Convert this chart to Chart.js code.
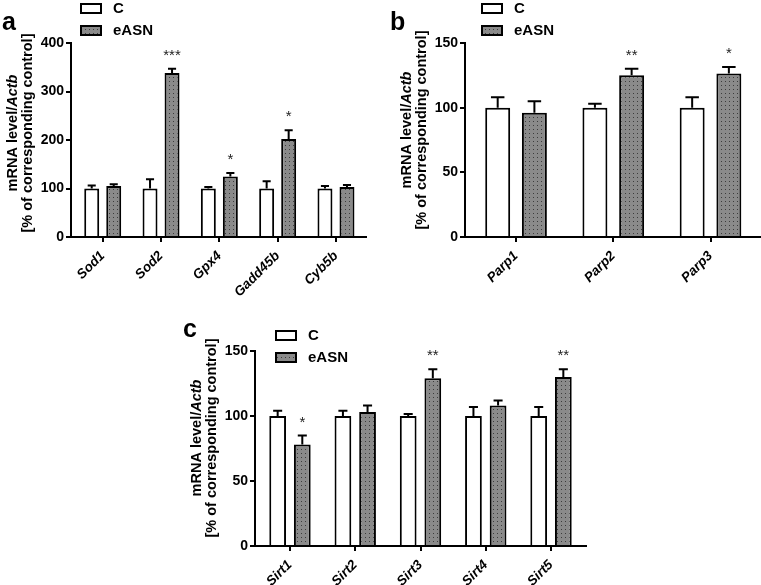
<!DOCTYPE html>
<html><head><meta charset="utf-8">
<script src="https://cdn.jsdelivr.net/npm/chart.js@4.4.1/dist/chart.umd.min.js"></script>
<style>
html,body{margin:0;padding:0;background:#fff;}
#wrap{position:relative;width:761px;height:585px;overflow:hidden;background:#fff;}
canvas{position:absolute;left:0;top:0;}
</style></head><body>
<div id="wrap">
<canvas id="ca" width="761" height="585"></canvas>
<canvas id="cb" width="761" height="585"></canvas>
<canvas id="cc" width="761" height="585"></canvas>
</div>
<script>
// ---- data ----
const seriesNames = ['C', 'eASN'];

const sodGenes = ['Sod1', 'Sod2', 'Gpx4', 'Gadd45b', 'Cyb5b'];
const sodC     = [100, 100, 100, 100, 100];
const sodCErr  = [6, 19, 3, 15, 5];
const sodE     = [105, 338, 125, 202, 103];
const sodEErr  = [4, 9, 7, 18, 4];
const sodSig   = ['', '***', '*', '*', ''];
const sodTicks = [0, 100, 200, 300, 400];

const parpGenes = ['Parp1', 'Parp2', 'Parp3'];
const parpC     = [100, 100, 100];
const parpCErr  = [8, 3, 8];
const parpE     = [96, 125, 126.5];
const parpEErr  = [9, 5, 5];
const parpSig   = ['', '**', '*'];
const parpTicks = [0, 50, 100, 150];

const sirtGenes = ['Sirt1', 'Sirt2', 'Sirt3', 'Sirt4', 'Sirt5'];
const sirtC     = [100, 100, 100, 100, 100];
const sirtCErr  = [4, 4, 1.5, 7, 7];
const sirtE     = [78, 103, 129, 108, 130];
const sirtEErr  = [7, 5, 7, 4, 6];
const sirtSig   = ['*', '', '**', '', '**'];
const sirtTicks = [0, 50, 100, 150];

// ---- layout (positions only) ----
const FONT = "'Liberation Sans', Arial, Helvetica, sans-serif";
const panels = [
  {id:'ca', letter:'a', genes:sodGenes, c:sodC, cErr:sodCErr, e:sodE, eErr:sodEErr, sig:sodSig, yTicks:sodTicks,
   area:{left:71, right:366, top:43, bottom:237}, xMin:0.456, xMax:5.515, xH:60,
   letterPos:[2,30], legendPos:[81,4], titleX:[13,28], titleY:133},
  {id:'cb', letter:'b', genes:parpGenes, c:parpC, cErr:parpCErr, e:parpE, eErr:parpEErr, sig:parpSig, yTicks:parpTicks,
   area:{left:465, right:760, top:43, bottom:237}, xMin:0.475, xMax:3.509, xH:60,
   letterPos:[390,30], legendPos:[482,4], titleX:[407,422], titleY:130},
  {id:'cc', letter:'c', genes:sirtGenes, c:sirtC, cErr:sirtCErr, e:sirtE, eErr:sirtEErr, sig:sirtSig, yTicks:sirtTicks,
   area:{left:255, right:586, top:351, bottom:546}, xMin:0.464, xMax:5.536, xH:39,
   letterPos:[183,337], legendPos:[276,331], titleX:[197,212], titleY:438}
];

function makePattern(ctx) {
  const c = document.createElement('canvas'); c.width = 4; c.height = 4;
  const g = c.getContext('2d');
  g.fillStyle = '#8a8a8a'; g.fillRect(0, 0, 4, 4);
  g.fillStyle = '#3c3c3c'; g.fillRect(1, 1, 1, 1);
  return ctx.createPattern(c, 'repeat');
}

function decoPlugin(p) {
  return {
    id: 'deco' + p.letter,
    afterDatasetsDraw(chart) {
      const ctx = chart.ctx, ys = chart.scales.y;
      ctx.save();
      ctx.strokeStyle = '#000'; ctx.lineWidth = 2;
      [[p.c, p.cErr], [p.e, p.eErr]].forEach(([vals, errs], di) => {
        const meta = chart.getDatasetMeta(di);
        meta.data.forEach((bar, i) => {
          const base = ys.getPixelForValue(vals[i]);
          const top = ys.getPixelForValue(vals[i] + errs[i]);
          const half = bar.width * 0.27;
          ctx.beginPath();
          ctx.moveTo(bar.x, base); ctx.lineTo(bar.x, top);
          ctx.moveTo(bar.x - half, top); ctx.lineTo(bar.x + half, top);
          ctx.stroke();
          if (di === 1 && p.sig[i]) {
            ctx.fillStyle = '#222'; ctx.font = '15px ' + FONT;
            ctx.textAlign = 'center'; ctx.textBaseline = 'alphabetic';
            ctx.fillText(p.sig[i], bar.x, top - 9);
          }
        });
      });
      ctx.restore();
    },
    afterDraw(chart) {
      const ctx = chart.ctx;
      ctx.save();
      const [lx, ly] = p.legendPos;
      chart.data.datasets.forEach((ds, k) => {
        const by = ly + k * 22;
        ctx.fillStyle = ds.backgroundColor; ctx.fillRect(lx, by, 20, 9);
        ctx.strokeStyle = '#000'; ctx.lineWidth = 2; ctx.strokeRect(lx, by, 20, 9);
        ctx.fillStyle = '#000'; ctx.font = 'bold 15px ' + FONT;
        ctx.textAlign = 'left'; ctx.textBaseline = 'middle';
        ctx.fillText(ds.label, lx + 32, by + 5);
      });
      ctx.font = 'bold 25px ' + FONT; ctx.textBaseline = 'alphabetic'; ctx.textAlign = 'left';
      ctx.fillText(p.letter, p.letterPos[0], p.letterPos[1]);
      ctx.translate(p.titleX[0], p.titleY);
      ctx.rotate(-Math.PI / 2);
      ctx.textBaseline = 'middle'; ctx.textAlign = 'left';
      const f1 = 'bold 14.5px ' + FONT, f2 = 'italic bold 14.5px ' + FONT;
      ctx.font = f1; const w1 = ctx.measureText('mRNA level/').width;
      ctx.font = f2; const w2 = ctx.measureText('Actb').width;
      const sx = -(w1 + w2) / 2;
      ctx.font = f1; ctx.fillText('mRNA level/', sx, 0);
      ctx.font = f2; ctx.fillText('Actb', sx + w1, 0);
      ctx.font = f1; ctx.textAlign = 'center';
      ctx.fillText('[% of corresponding control]', 0, p.titleX[1] - p.titleX[0]);
      ctx.restore();
    }
  };
}

panels.forEach(p => {
  const canvas = document.getElementById(p.id);
  const ctx = canvas.getContext('2d');
  const pattern = makePattern(ctx);
  const gridOpts = {display:true, drawOnChartArea:false, drawTicks:true, tickLength:5, color:'#000', lineWidth:2, offset:false};
  const borderOpts = {display:true, color:'#000', width:2};
  new Chart(ctx, {
    type: 'bar',
    data: {
      datasets: [
        {label: seriesNames[0], data: p.c.map((v, i) => ({x: i + 1, y: v})),
         backgroundColor: '#ffffff', borderColor: '#000', borderWidth: 2,
         categoryPercentage: 0.755, barPercentage: 0.68},
        {label: seriesNames[1], data: p.e.map((v, i) => ({x: i + 1, y: v})),
         backgroundColor: pattern, borderColor: '#000', borderWidth: 2,
         categoryPercentage: 0.755, barPercentage: 0.68}
      ]
    },
    options: {
      responsive: false, animation: false, events: [],
      layout: {padding: {left: p.area.left - 40, right: 761 - p.area.right, top: p.area.top, bottom: 585 - p.area.bottom - p.xH}},
      plugins: {legend: {display: false}, tooltip: {enabled: false}, title: {display: false}},
      scales: {
        x: {type: 'linear', min: p.xMin, max: p.xMax, offset: false,
            afterBuildTicks: s => { s.ticks = p.genes.map((g, i) => ({value: i + 1})); },
            afterFit: s => { s.height = p.xH; },
            ticks: {callback: v => p.genes[Math.round(v) - 1] || '', minRotation: 45, maxRotation: 45, autoSkip: false,
                    padding: 6, color: '#000', font: {family: FONT, size: 13.5, weight: 'bold', style: 'italic'}},
            grid: gridOpts, border: borderOpts},
        y: {type: 'linear', min: 0, max: p.yTicks[p.yTicks.length - 1],
            afterBuildTicks: s => { s.ticks = p.yTicks.map(v => ({value: v})); },
            afterFit: s => { s.width = 40; },
            ticks: {padding: 2, color: '#000', font: {family: FONT, size: 14, weight: 'bold'}},
            grid: gridOpts, border: borderOpts}
      }
    },
    plugins: [decoPlugin(p)]
  });
});
</script>
</body></html>
